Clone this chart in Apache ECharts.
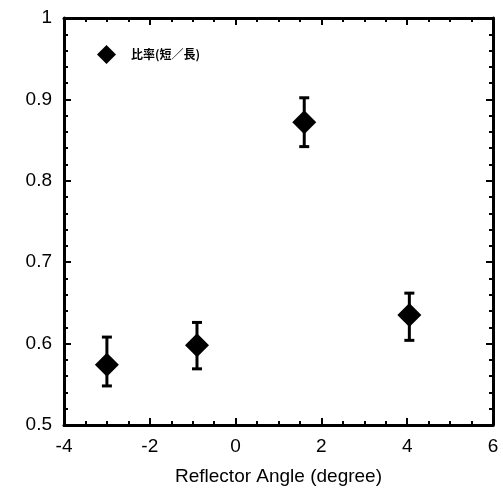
<!DOCTYPE html>
<html><head><meta charset="utf-8">
<script src="https://cdn.jsdelivr.net/npm/echarts@6/dist/echarts.min.js"></script>
<style>html,body{margin:0;padding:0;background:#fff}#c{width:503px;height:500px}</style>
</head><body><div id="c"></div>
<script>
const seriesName = '比率(短／長)';
const xValues = [-3.0, -0.9, 1.6, 4.05];
const yValues = [0.574, 0.598, 0.872, 0.635];
const yLow = [0.548, 0.569, 0.842, 0.604];
const yHigh = [0.608, 0.626, 0.902, 0.662];
const xTicks = [-4, -2, 0, 2, 4, 6];
const yTicks = [0.5, 0.6, 0.7, 0.8, 0.9, 1];

const points = xValues.map((x, i) => [x, yValues[i]]);
const errs = xValues.map((x, i) => [x, yLow[i], yHigh[i]]);
const font = 'Liberation Sans, Arial, sans-serif';

const chart = echarts.init(document.getElementById('c'));
function axisCommon(split) {
  return {
    axisLine: {show: true, onZero: false, lineStyle: {color: '#000', width: 3}},
    axisTick: {show: true, inside: true, length: 7, lineStyle: {color: '#000', width: 2}},
    minorTick: {show: true, splitNumber: split, length: 4, lineStyle: {color: '#000', width: 2}},
    splitLine: {show: false}
  };
}
const labelStyle = {color: '#000', fontSize: 19, fontFamily: font, margin: 12};
chart.setOption({
  animation: false,
  grid: {left: 64, right: 10, top: 18, bottom: 75},
  legend: {
    show: true, left: 92, top: 40, itemWidth: 19, itemHeight: 19, itemGap: 4,
    textStyle: {fontSize: 12, fontWeight: 'bold', color: '#000', fontFamily: 'Noto Sans CJK JP', padding: [0, 0, 0, 10]},
    data: [{name: seriesName, icon: 'diamond'}]
  },
  xAxis: [
    Object.assign({type: 'value', min: -4, max: 6, interval: 2, position: 'bottom',
      axisLabel: Object.assign({formatter: v => xTicks.includes(v) ? String(v) : ''}, labelStyle),
      name: 'Reflector Angle (degree)', nameLocation: 'middle', nameGap: 42,
      nameTextStyle: {color: '#000', fontSize: 19, fontFamily: font}}, axisCommon(4)),
    Object.assign({type: 'value', min: -4, max: 6, interval: 2, position: 'top',
      axisLabel: {show: false}}, axisCommon(4))
  ],
  yAxis: [
    Object.assign({type: 'value', min: 0.5, max: 1, interval: 0.1, position: 'left',
      axisLabel: Object.assign({formatter: v => { const r = Math.round(v * 10) / 10; return yTicks.includes(r) ? (r === 1 ? '1' : r.toFixed(1)) : ''; }}, labelStyle)},
      axisCommon(5)),
    Object.assign({type: 'value', min: 0.5, max: 1, interval: 0.1, position: 'right',
      axisLabel: {show: false}}, axisCommon(5))
  ],
  series: [
    {
      type: 'custom', name: 'err', xAxisIndex: 0, yAxisIndex: 0, z: 3,
      renderItem: function (params, api) {
        const x = api.value(0);
        const lo = api.coord([x, api.value(1)]);
        const hi = api.coord([x, api.value(2)]);
        const w = 5;
        const style = {stroke: '#000', lineWidth: 3};
        return {type: 'group', children: [
          {type: 'line', shape: {x1: lo[0], y1: lo[1], x2: hi[0], y2: hi[1]}, style: style},
          {type: 'line', shape: {x1: lo[0] - w, y1: lo[1], x2: lo[0] + w, y2: lo[1]}, style: style},
          {type: 'line', shape: {x1: hi[0] - w, y1: hi[1], x2: hi[0] + w, y2: hi[1]}, style: style}
        ]};
      },
      encode: {x: 0, y: [1, 2]},
      data: errs
    },
    {
      type: 'scatter', name: seriesName, xAxisIndex: 0, yAxisIndex: 0, z: 4,
      symbol: 'diamond', symbolSize: [24, 24],
      itemStyle: {color: '#000', opacity: 1},
      data: points
    }
  ]
});
</script></body></html>
